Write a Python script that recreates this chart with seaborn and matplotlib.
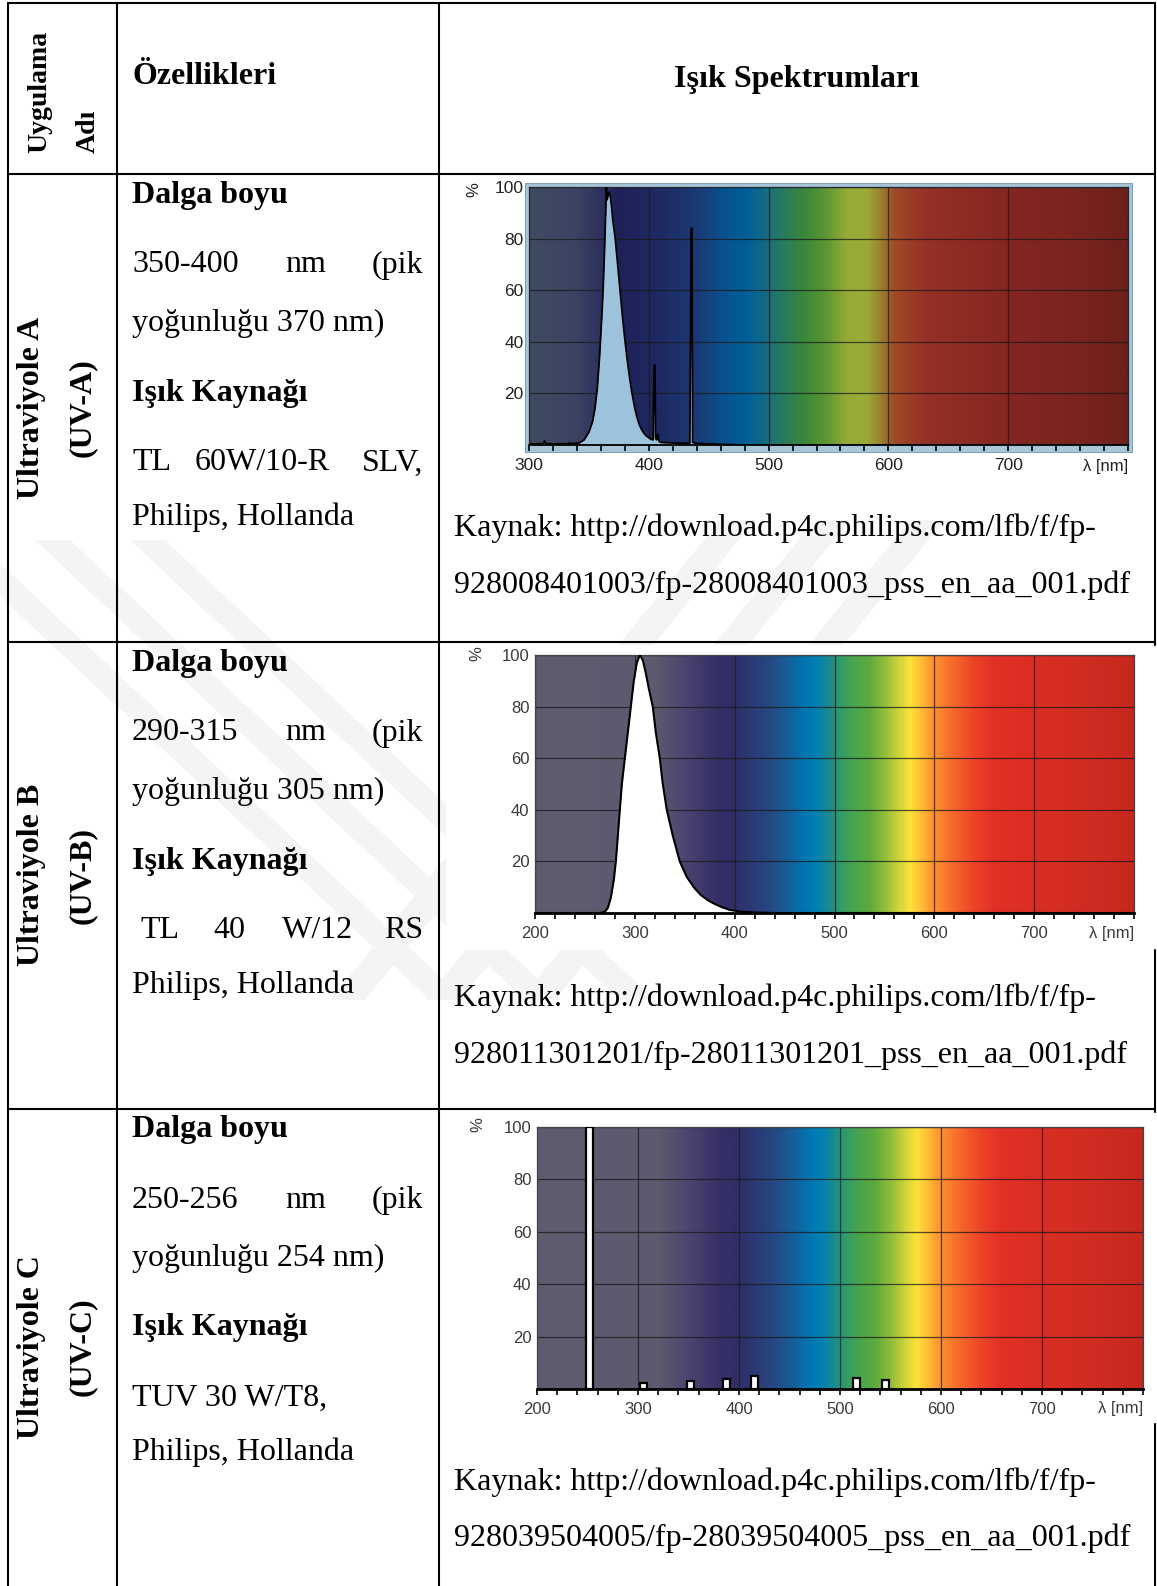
import numpy as np
import matplotlib
matplotlib.use("Agg")
import matplotlib.pyplot as plt
import seaborn as sns
from matplotlib.colors import LinearSegmentedColormap
from matplotlib.patches import Rectangle, Polygon

# ---- data ----
uva_nm = [300, 310, 312, 313, 314, 320, 333, 334, 335, 342, 346, 350, 353, 355, 357, 359, 361,
          362, 363, 364, 364.6, 365.2, 366, 367, 368, 369, 370, 372, 374, 376, 378, 380, 382,
          384, 386, 388, 390, 392, 394, 396, 398, 400, 402, 403.6, 404.1, 404.5, 405.2, 405.6,
          406.5, 407.2, 407.8, 408.5, 410, 420, 434.2, 434.8, 435.3, 436.1, 436.6, 440, 455,
          460, 480, 800]
uva_pct = [0.4, 0.5, 0.6, 1.6, 0.6, 0.4, 0.5, 0.9, 0.5, 0.8, 2, 5, 9, 14, 22, 35, 52,
           62, 75, 90, 100, 95, 97, 98, 96, 92, 87, 80, 70, 60, 50, 41, 33,
           26, 20, 15, 11, 8, 6, 4.5, 3.5, 2.8, 2.2, 2, 22, 31, 31, 3,
           2, 4, 4, 1.5, 1, 0.8, 0.6, 38, 84, 84, 1, 0.6, 0.4,
           0.2, 0, 0]

uvb_nm = [200, 265, 270, 273, 276, 279, 281, 283, 285, 287, 290, 293, 296, 299, 302, 305,
          308, 311, 314, 318, 321, 325, 328, 332, 338, 345, 352, 359, 366, 373, 380, 387,
          395, 405, 420, 440, 800]
uvb_pct = [0, 0, 0.5, 2, 6, 13, 20, 30, 40, 50, 60, 70, 80, 90, 97, 100,
           98, 93, 87, 80, 70, 60, 50, 40, 30, 20, 14, 10, 7, 5, 3.5, 2.3,
           1.2, 0.6, 0.2, 0, 0]

uvc_nm = [252, 305, 352, 388, 415, 516, 545]
uvc_pct = [100, 2.3, 3.0, 3.7, 5.0, 4.2, 3.4]

y_ticks = [20, 40, 60, 80, 100]

row_names = ["Ultraviyole A", "Ultraviyole B", "Ultraviyole C"]
row_codes = ["(UV-A)", "(UV-B)", "(UV-C)"]
wave_ranges = ["350-400", "290-315", "250-256"]
peak_lines = ["yoğunluğu 370 nm)", "yoğunluğu 305 nm)", "yoğunluğu 254 nm)"]
source_lines = [
    ("Kaynak: http://download.p4c.philips.com/lfb/f/fp-",
     "928008401003/fp-28008401003_pss_en_aa_001.pdf"),
    ("Kaynak: http://download.p4c.philips.com/lfb/f/fp-",
     "928011301201/fp-28011301201_pss_en_aa_001.pdf"),
    ("Kaynak: http://download.p4c.philips.com/lfb/f/fp-",
     "928039504005/fp-28039504005_pss_en_aa_001.pdf"),
]

# background colour stops (wavelength, colour)
stops_a = [(300, "#404b63"), (340, "#3a4262"), (360, "#2c305e"), (372, "#1f2157"),
           (410, "#1e2a63"), (440, "#1b3a75"), (460, "#0a4f8c"), (480, "#005e98"),
           (495, "#0f6888"), (505, "#237470"), (530, "#3a8838"), (548, "#5c9632"),
           (565, "#95ab36"), (582, "#9aac35"), (595, "#9a7b2e"), (606, "#a04a28"),
           (630, "#953126"), (700, "#842621"), (760, "#7a241e"), (800, "#6d201b")]
stops_bc = [(200, "#605b6f"), (320, "#5e596e"), (350, "#4b4470"), (380, "#363066"),
            (398, "#302d66"), (430, "#27447e"), (450, "#1b5a94"), (470, "#0076b2"),
            (482, "#0080b5"), (495, "#1c8b8c"), (505, "#2f9a6c"), (520, "#4aa54a"),
            (535, "#5caa3f"), (550, "#8fbc3a"), (565, "#cfd43a"), (576, "#fde23b"),
            (586, "#fec335"), (596, "#fd9c31"), (604, "#fc8a2f"), (620, "#f6672a"),
            (640, "#ec4428"), (660, "#e33026"), (700, "#da2e23"), (750, "#d02d22"),
            (800, "#c6281f")]

W, H = 1157, 1586
sns.set_theme(style="white")
plt.rcParams["font.family"] = ["Liberation Serif", "DejaVu Serif"]
plt.rcParams["text.color"] = "black"

fig = plt.figure(figsize=(W / 100, H / 100), dpi=100)
fig.patch.set_facecolor("white")


def frac(x0, y0, x1, y1):
    return [x0 / W, 1 - y1 / H, (x1 - x0) / W, (y1 - y0) / H]


bg = fig.add_axes([0, 0, 1, 1])
bg.set_xlim(0, W)
bg.set_ylim(H, 0)
bg.axis("off")

# faint watermark stripes
wm = "#f4f4f4"
for off in [0, 95, 190]:
    bg.add_patch(Polygon([(-60 + off, 540), (-25 + off, 540), (465 + off, 1000), (430 + off, 1000)],
                         closed=True, color=wm, zorder=0, lw=0))
for off in [0, 95, 190]:
    bg.add_patch(Polygon([(330 + off, 1000), (365 + off, 1000), (755 + off, 520), (720 + off, 520)],
                         closed=True, color=wm, zorder=0, lw=0))

# white chart image areas
bg.add_patch(Rectangle((446, 177), 704, 302, color="white", zorder=1, lw=0))
bg.add_patch(Rectangle((446, 645), 711, 305, color="white", zorder=1, lw=0))
bg.add_patch(Rectangle((446, 1112), 711, 312, color="white", zorder=1, lw=0))

# table grid
lw = 1.5
for x in [8, 117, 439]:
    bg.plot([x, x], [3, H], color="black", lw=lw, zorder=3)
bg.plot([1155, 1155], [3, 645], color="black", lw=lw, zorder=3)
bg.plot([1155, 1155], [950, 1112], color="black", lw=lw, zorder=3)
bg.plot([1155, 1155], [1424, H], color="black", lw=lw, zorder=3)
for y in [3, 174, 642, 1109]:
    bg.plot([8, 1155], [y, y], color="black", lw=lw, zorder=3)

fs = 23
# header
bg.text(40, 153, "Uygulama", rotation=90, ha="center", va="bottom", fontsize=20, fontweight="bold", zorder=4)
bg.text(88, 153, "Adı", rotation=90, ha="center", va="bottom", fontsize=20, fontweight="bold", zorder=4)
bg.text(132, 76, "Özellikleri", ha="left", va="center", fontsize=fs, fontweight="bold", zorder=4)
bg.text(797, 79, "Işık Spektrumları", ha="center", va="center", fontsize=fs, fontweight="bold", zorder=4)

row_tops = [174, 642, 1109]
row_mid = [408, 875, 1347]
offs = [21, 91, 149, 219, 289, 343]
for i, top in enumerate(row_tops):
    bg.text(32, row_mid[i], row_names[i], rotation=90, ha="center", va="center",
            fontsize=fs, fontweight="bold", zorder=4)
    bg.text(82, row_mid[i], row_codes[i], rotation=90, ha="center", va="center",
            fontsize=fs, fontweight="bold", zorder=4)
    ys = [top + o for o in offs]
    bg.text(132, ys[0], "Dalga boyu", fontsize=fs, fontweight="bold", va="center", zorder=4)
    bg.text(132, ys[1], wave_ranges[i], fontsize=fs, va="center", zorder=4)
    bg.text(285, ys[1], "nm", fontsize=fs, va="center", zorder=4)
    bg.text(423, ys[1], "(pik", fontsize=fs, va="center", ha="right", zorder=4)
    bg.text(132, ys[2], peak_lines[i], fontsize=fs, va="center", zorder=4)
    bg.text(132, ys[3], "Işık Kaynağı", fontsize=fs, fontweight="bold", va="center", zorder=4)
    bg.text(132, ys[5], "Philips, Hollanda", fontsize=fs, va="center", zorder=4)
    k1, k2 = source_lines[i]
    ky = [[528, 585], [998, 1055], [1482, 1538]][i]
    bg.text(454, ky[0], k1, fontsize=fs, va="center", zorder=4)
    bg.text(454, ky[1], k2, fontsize=fs, va="center", zorder=4)

# lamp lines (justified in the original)
ya = row_tops[0] + offs[4]
bg.text(132, ya, "TL", fontsize=fs, va="center", zorder=4)
bg.text(195, ya, "60W/10-R", fontsize=fs, va="center", zorder=4)
bg.text(423, ya, "SLV,", fontsize=fs, va="center", ha="right", zorder=4)
yb = row_tops[1] + offs[4]
bg.text(140, yb, "TL", fontsize=fs, va="center", zorder=4)
bg.text(213, yb, "40", fontsize=fs, va="center", zorder=4)
bg.text(282, yb, "W/12", fontsize=fs, va="center", zorder=4)
bg.text(423, yb, "RS", fontsize=fs, va="center", ha="right", zorder=4)
yc = row_tops[2] + offs[4]
bg.text(132, yc, "TUV 30 W/T8,", fontsize=fs, va="center", zorder=4)


def gradient(ax, stops, x0, x1):
    lo, hi = stops[0][0], stops[-1][0]
    cmap = LinearSegmentedColormap.from_list(
        "spec", [((w - lo) / (hi - lo), c) for w, c in stops])
    ax.imshow(np.linspace(0, 1, 800)[None, :], cmap=cmap, aspect="auto",
              extent=[x0, x1, 0, 100], zorder=0, interpolation="bilinear")


def style_axes(ax, x0, x1, lab_col, frame_col, base_lw, lsize):
    ax.set_xlim(x0, x1)
    ax.set_ylim(0, 100)
    ax.set_xticks(np.arange(x0, x1 + 1, 100))
    ax.set_xticks(np.arange(x0, x1 + 1, 20), minor=True)
    ax.set_xticklabels([str(v) for v in range(x0, x1, 100)] + [""])
    ax.set_yticks(y_ticks)
    ax.set_yticklabels([str(v) for v in y_ticks])
    ax.grid(True, which="major", color="#1a1a1a", lw=0.9, alpha=0.75)
    ax.tick_params(axis="x", which="both", direction="out", length=4, width=1.2,
                   color="black", bottom=True, pad=5)
    ax.tick_params(axis="x", labelsize=lsize, labelcolor=lab_col)
    ax.tick_params(axis="y", length=0, pad=4, labelsize=lsize, labelcolor=lab_col)
    for side in ["top", "left", "right"]:
        ax.spines[side].set_color(frame_col)
        ax.spines[side].set_linewidth(0.9)
    ax.spines["bottom"].set_color("black")
    ax.spines["bottom"].set_linewidth(base_lw)
    for lbl in ax.get_xticklabels() + ax.get_yticklabels():
        lbl.set_fontfamily("Liberation Sans")
    ax.set_xlabel("")
    ax.set_ylabel("")


# ---- chart A ----
bg.add_patch(Rectangle((525, 183), 607, 269, facecolor="#a9c5d8", edgecolor="#7f9fb5",
                       lw=0.8, zorder=2))
axA = fig.add_axes(frac(529, 187, 1128, 445))
gradient(axA, stops_a, 300, 800)
axA.fill_between(uva_nm, uva_pct, 0, color="#9dc3dc", zorder=2, lw=0)
sns.lineplot(x=uva_nm, y=uva_pct, ax=axA, color="black", lw=1.3, zorder=3,
             errorbar=None, sort=False)
style_axes(axA, 300, 800, "#222222", "#1f2a35", 1.3, 12.5)

# ---- chart B ----
axB = fig.add_axes(frac(535, 655, 1134, 913))
gradient(axB, stops_bc, 200, 800)
axB.fill_between(uvb_nm, uvb_pct, 0, color="white", zorder=2, lw=0)
sns.lineplot(x=uvb_nm, y=uvb_pct, ax=axB, color="black", lw=1.5, zorder=3,
             errorbar=None, sort=False)
style_axes(axB, 200, 800, "#3a3a3a", "#444444", 2.0, 12)

# ---- chart C ----
axC = fig.add_axes(frac(537, 1127, 1143, 1389))
gradient(axC, stops_bc, 200, 800)
axC.bar(uvc_nm, uvc_pct, width=7, color="white", edgecolor="black", linewidth=1.6, zorder=3)
style_axes(axC, 200, 800, "#3a3a3a", "#444444", 2.0, 12)

# axis captions
for ax_, (px, py), (lx, ly), col in [
        (axA, (474, 190), (1128, 466), "#222222"),
        (axB, (477, 654), (1134, 934), "#3a3a3a"),
        (axC, (478, 1125), (1143, 1409), "#3a3a3a")]:
    fig.text(px / W, 1 - py / H, "%", rotation=90, ha="center", va="center",
             fontsize=12, color=col, fontfamily="Liberation Sans")
    fig.text(lx / W, 1 - ly / H, "λ [nm]", ha="right", va="center",
             fontsize=12, color=col, fontfamily="Liberation Sans")

fig.savefig("out.png", dpi=100, facecolor="white")
